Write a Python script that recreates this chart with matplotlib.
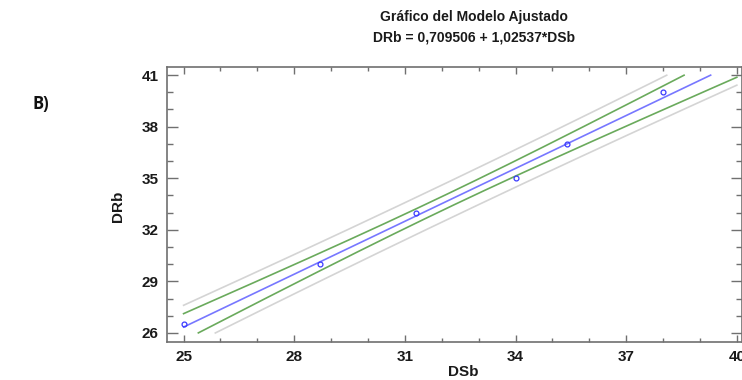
import numpy as np
import matplotlib
matplotlib.use("Agg")
import matplotlib.pyplot as plt
from matplotlib.ticker import MultipleLocator

# Data
dsb = np.array([25.0, 28.7, 31.3, 34.0, 35.4, 38.0])
drb = np.array([26.5, 30.0, 33.0, 35.0, 37.0, 40.0])
intercept = 0.709506
slope = 1.02537
x_ticks = [25, 28, 31, 34, 37, 40]
y_ticks = [26, 29, 32, 35, 38, 41]
title_lines = ["Gráfico del Modelo Ajustado", "DRb = 0,709506 + 1,02537*DSb"]

FONT = ['Liberation Sans', 'DejaVu Sans']
plt.rcParams['font.family'] = FONT

# Fitted line and 95% confidence / prediction limits
n = len(dsb)
resid = drb - (intercept + slope * dsb)
s = np.sqrt(np.sum(resid ** 2) / (n - 2))
t = 2.7764  # t(0.975, df=4)
xm = dsb.mean()
sxx = np.sum((dsb - xm) ** 2)
xg = np.linspace(25, 40, 1500)
yfit = intercept + slope * xg
se_mean = s * np.sqrt(1.0 / n + (xg - xm) ** 2 / sxx)
se_pred = s * np.sqrt(1.0 + 1.0 / n + (xg - xm) ** 2 / sxx)

def clip(y):
    y = y.copy()
    y[(y < 26) | (y > 41)] = np.nan
    return y

W, H = 742, 380
fig = plt.figure(figsize=(W / 100, H / 100), dpi=100)
left, right, top, bottom = 167, 742, 67, 342
ax = fig.add_axes([left / W, 1 - bottom / H, (right - left) / W, (bottom - top) / H])

gray = '#d4d4d4'
green = '#6aaa5c'
blue = '#7777ff'
ax.plot(xg, clip(yfit + t * se_pred), color=gray, lw=1.2)
ax.plot(xg, clip(yfit - t * se_pred), color=gray, lw=1.2)
ax.plot(xg, clip(yfit + t * se_mean), color=green, lw=1.2)
ax.plot(xg, clip(yfit - t * se_mean), color=green, lw=1.2)
ax.plot(xg, clip(yfit), color=blue, lw=1.2)
ax.plot(dsb, drb, linestyle='none', marker='o', markersize=3.5,
        markerfacecolor='none', markeredgecolor='#3a3aff', markeredgewidth=0.9)

ax.set_xlim(24.55, 40.14)
ax.set_ylim(25.475, 41.47)
ax.set_xticks(x_ticks)
ax.set_yticks(y_ticks)
ax.xaxis.set_minor_locator(MultipleLocator(1))
ax.yaxis.set_minor_locator(MultipleLocator(1))

for sp in ax.spines.values():
    sp.set_color('#707070')
    sp.set_linewidth(1.2)

ax.tick_params(axis='both', which='both', direction='in', color='#707070',
               top=True, right=True, width=1.0)
ax.tick_params(axis='x', which='major', length=5, pad=6)
ax.tick_params(axis='x', which='minor', length=2.8)
ax.tick_params(axis='y', which='major', length=8, pad=6)
ax.tick_params(axis='y', which='minor', length=4.5)
for lab in ax.get_xticklabels() + ax.get_yticklabels():
    lab.set_fontweight('bold')
    lab.set_fontsize(11)
    lab.set_color('#1a1a1a')

fig.text(118 / W, 1 - 206 / H, 'DRb', rotation=90, ha='center', va='center',
         fontsize=11, fontweight='bold', color='#1a1a1a')
fig.text(463 / W, 1 - 372 / H, 'DSb', ha='center', va='center',
         fontsize=11, fontweight='bold', color='#1a1a1a')
fig.text(474 / W, 1 - 17 / H, title_lines[0], ha='center', va='center',
         fontsize=10, fontweight='bold', color='#1a1a1a')
fig.text(474 / W, 1 - 37 / H, title_lines[1], ha='center', va='center',
         fontsize=10, fontweight='bold', color='#1a1a1a')
fig.text(41 / W, 1 - 104 / H, 'B)', ha='center', va='center',
         fontsize=12, fontweight='bold', color='#111111',
         family=['Open Sans', 'Liberation Sans', 'DejaVu Sans'])

fig.savefig('out.png', dpi=100)
